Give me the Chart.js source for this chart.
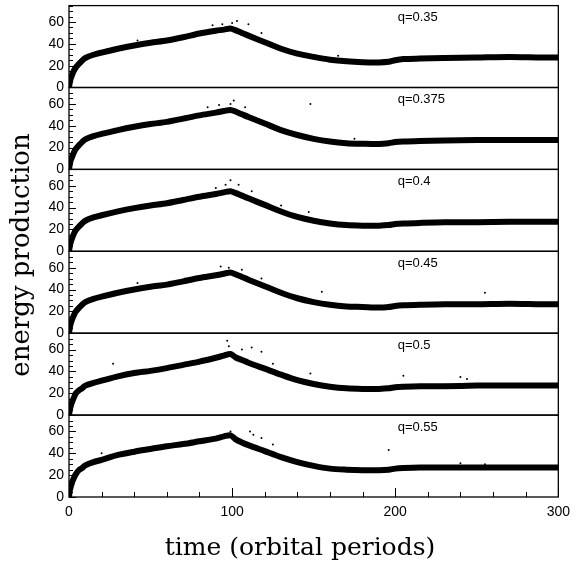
<!DOCTYPE html>
<html>
<head>
<meta charset="utf-8">
<script src="https://cdn.jsdelivr.net/npm/chart.js@4"></script>
<style>
    html, body { margin: 0; padding: 0; background: #fff; }
</style>
</head>
<body>
<canvas id="energyChart" width="577" height="564"></canvas>
<script>
// sample times (orbital periods)
const times = [0, 0.5, 1, 2, 3, 4, 6, 8, 10, 15, 20, 30, 40, 50, 60, 70, 80, 90, 95, 99, 102, 106, 110, 120, 130, 140, 150, 160, 170, 180, 190, 196, 200, 205, 215, 230, 250, 270, 290, 300];

const q035  = [0, 5, 8, 12, 15.5, 18, 21.5, 24.5, 27, 30, 32, 35.5, 38.5, 41, 43, 46, 49.5, 52, 53, 54, 52.5, 50, 47.5, 41.5, 35.5, 31, 28, 25.5, 24, 23.2, 23, 23.5, 25, 26, 26.5, 27, 27.5, 28, 27.5, 27.5];
const q0375 = [0, 5, 8, 12, 15.5, 18.5, 22, 25, 27.5, 30.5, 32.5, 36, 39, 41.5, 43.5, 46.5, 49.5, 52, 53.5, 54.5, 53, 50.5, 48, 42, 36, 31.5, 28, 25.5, 24, 23.5, 23.3, 24, 25, 25.5, 26, 26.5, 27, 27, 27, 27];
const q040  = [0, 5, 8, 12.5, 16, 19, 22.5, 25.5, 28, 31, 33, 36.5, 39.5, 42, 44, 47, 50, 52.5, 54, 55, 53.5, 51, 48.5, 42.5, 36.5, 31.5, 28, 25.5, 24, 23.5, 23.5, 24, 25, 25.5, 26, 26.5, 26.5, 27, 27, 27];
const q045  = [0, 5, 8.5, 13, 16.5, 19.5, 23, 26, 28.5, 31.5, 33.5, 37, 40, 42.5, 44.5, 47.5, 50.5, 53, 54.5, 55.5, 54, 51.5, 49, 43, 37, 32, 28.5, 26, 24.5, 24, 23.5, 24, 25, 25.5, 26, 26.5, 26.5, 27, 26.5, 26.5];
const q050  = [0, 4.5, 8, 12.5, 16, 19.5, 22.5, 24.5, 27, 29.5, 31.5, 35.5, 38.5, 40.5, 43, 46, 49, 52.5, 54.5, 56, 53, 50.5, 48, 42.5, 37, 32, 28.5, 26, 24.5, 24, 24, 24.5, 25.5, 26, 26.5, 26.5, 27, 27, 27, 27];
const q055  = [0, 6, 9, 14, 17.5, 20.5, 24.5, 26.5, 29, 32, 34, 38.5, 41.5, 44, 46.5, 48.5, 51, 53.5, 55.5, 56.5, 53, 50, 47.5, 42, 36.5, 32, 28.5, 26, 25, 24.5, 24.5, 25, 26, 26.5, 27, 27, 27, 27, 27, 27];

// stray points above the band
const stray035  = [[88, 57], [94, 58], [100, 59], [103, 61], [110, 58], [118, 50], [42, 43], [165, 29]];
const stray0375 = [[85, 57], [92, 59], [99, 60], [101, 63], [108, 57], [148, 60], [175, 28]];
const stray040  = [[90, 58], [96, 61], [99, 65], [104, 61], [112, 55], [130, 42], [147, 36]];
const stray045  = [[93, 61], [98, 60], [106, 58], [118, 50], [155, 38], [255, 37], [42, 46]];
const stray050  = [[27, 47], [97, 68], [98, 63], [106, 60], [112, 62], [118, 58], [125, 47], [148, 38], [205, 36], [240, 35], [244, 33]];
const stray055  = [[20, 40], [99, 60], [111, 60], [113, 57], [118, 54], [125, 48], [196, 43], [240, 31], [255, 30]];

const seriesList = [q035, q0375, q040, q045, q050, q055];
const strayList = [stray035, stray0375, stray040, stray045, stray050, stray055];
const qLabels = ['q=0.35', 'q=0.375', 'q=0.4', 'q=0.45', 'q=0.5', 'q=0.55'];
const yTickLabels = [0, 20, 40, 60];
const xTickLabels = [0, 100, 200, 300];

const fontFamily = '"Liberation Sans", Arial, sans-serif';
const titleFont = '25px "DejaVu Serif", serif';
const panelIds = seriesList.map((s, i) => 'y' + i);

const scales = {
    x: {
        type: 'linear',
        position: 'bottom',
        min: 0,
        max: 300,
        grid: { display: false, drawTicks: false },
        border: { display: false },
        ticks: {
            stepSize: 20,
            autoSkip: false,
            maxRotation: 0,
            padding: 7,
            color: '#000',
            font: { family: fontFamily, size: 14 },
            callback: v => xTickLabels.includes(v) ? v : ''
        },
        afterFit: s => { s.height = 67; }
    }
};

// the last axis in the stack goes on top, so add them bottom-up
for (let i = panelIds.length - 1; i >= 0; i--) {
    scales[panelIds[i]] = {
        type: 'linear',
        position: 'left',
        stack: 'panels',
        stackWeight: 1,
        min: 0,
        max: 75,
        grid: { display: false, drawTicks: false },
        border: { display: false },
        ticks: {
            stepSize: 5,
            autoSkip: false,
            padding: 5,
            color: '#000',
            // unlabelled ticks get a tiny font so they add no layout padding
            font: c => ({ family: fontFamily, size: yTickLabels.includes(c.tick && c.tick.value) ? 14 : 1 }),
            callback: v => yTickLabels.includes(v) ? v : ''
        },
        afterFit: s => { s.width = 69; }
    };
}

const datasets = [];
seriesList.forEach((vals, i) => {
    datasets.push({
        type: 'line',
        data: times.map((t, k) => ({ x: t, y: vals[k] })),
        xAxisID: 'x',
        yAxisID: panelIds[i],
        borderColor: '#000',
        borderWidth: 6,
        pointRadius: 0,
        tension: 0.3,
        borderJoinStyle: 'round'
    });
    datasets.push({
        type: 'scatter',
        data: strayList[i].map(p => ({ x: p[0], y: p[1] })),
        xAxisID: 'x',
        yAxisID: panelIds[i],
        backgroundColor: '#000',
        borderWidth: 0,
        pointRadius: 1
    });
});

const panelFrame = {
    id: 'panelFrame',
    afterDraw(chart) {
        const ctx = chart.ctx;
        const area = chart.chartArea;
        const x = chart.scales.x;
        ctx.save();
        ctx.strokeStyle = '#000';
        ctx.fillStyle = '#000';

        panelIds.forEach((id, i) => {
            const s = chart.scales[id];
            ctx.lineWidth = 1.3;
            ctx.strokeRect(area.left, s.top, area.right - area.left, s.bottom - s.top);
            ctx.lineWidth = 1;
            s.ticks.forEach(t => {
                const y = Math.round(s.getPixelForValue(t.value)) + 0.5;
                const len = t.value % 20 === 0 ? 7 : 4;
                ctx.beginPath();
                ctx.moveTo(area.left, y);
                ctx.lineTo(area.left + len, y);
                ctx.stroke();
            });
            ctx.font = '13px ' + fontFamily;
            ctx.textBaseline = 'middle';
            ctx.textAlign = 'left';
            ctx.fillText(qLabels[i], x.getPixelForValue(201.5), s.getPixelForValue(64));
        });

        ctx.lineWidth = 1;
        x.ticks.forEach(t => {
            const px = Math.round(x.getPixelForValue(t.value)) + 0.5;
            const len = t.value % 100 === 0 ? 9 : 5;
            ctx.beginPath();
            ctx.moveTo(px, area.bottom);
            ctx.lineTo(px, area.bottom - len);
            ctx.stroke();
        });

        ctx.font = titleFont;
        ctx.textAlign = 'center';
        ctx.textBaseline = 'middle';
        ctx.fillText('time (orbital periods)', 300, 548);

        ctx.translate(22, 255);
        ctx.rotate(-Math.PI / 2);
        ctx.font = '26px "DejaVu Serif", serif';
        ctx.fillText('energy production', 0, 0);
        ctx.restore();
    }
};

new Chart(document.getElementById('energyChart').getContext('2d'), {
    type: 'scatter',
    data: { datasets: datasets },
    options: {
        responsive: false,
        animation: false,
        layout: { padding: { top: 5, right: 14, left: 0, bottom: 0 } },
        plugins: {
            legend: { display: false },
            tooltip: { enabled: false }
        },
        scales: scales
    },
    plugins: [panelFrame]
});
</script>
</body>
</html>
